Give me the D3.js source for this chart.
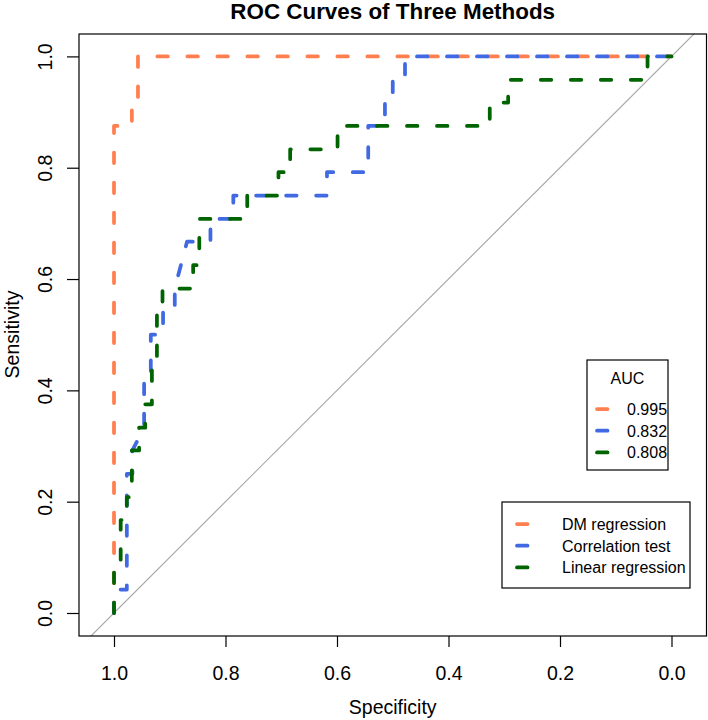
<!DOCTYPE html>
<html>
<head>
<meta charset="utf-8">
<script src="https://cdn.jsdelivr.net/npm/d3@7/dist/d3.min.js"></script>
<style>
  html, body { margin: 0; padding: 0; background: #fff; }
  svg { display: block; }
  text { font-family: "Liberation Sans", Arial, Helvetica, sans-serif; fill: #000; }
</style>
</head>
<body>
<svg id="chart" width="708" height="720"></svg>
<script>
// ---------------- data ----------------
const title = "ROC Curves of Three Methods";
const methods = ["DM regression", "Correlation test", "Linear regression"];
const aucValues = ["0.995", "0.832", "0.808"];
const colors = ["#FF7F50", "#4169E1", "#006400"];
const xTicks = [1.0, 0.8, 0.6, 0.4, 0.2, 0.0];
const yTicks = [0.0, 0.2, 0.4, 0.6, 0.8, 1.0];

// DM regression
const dmSpec = [1, 1, 0.968, 0.968, 0.957, 0.957, 0];
const dmSens = [0, 0.875, 0.875, 0.917, 0.917, 1, 1];

// Correlation test
const corSpec = [1, 1, 0.977, 0.977, 0.967, 0.967, 0.946, 0.946, 0.934, 0.934, 0.912, 0.912, 0.891, 0.891, 0.869, 0.827, 0.827, 0.786, 0.786, 0.618, 0.618, 0.544, 0.544, 0.514, 0.514, 0.500, 0.500, 0.478, 0.478, 0];
const corSens = [0, 0.042, 0.042, 0.250, 0.250, 0.292, 0.333, 0.417, 0.417, 0.500, 0.500, 0.542, 0.542, 0.583, 0.667, 0.667, 0.708, 0.708, 0.750, 0.750, 0.792, 0.792, 0.875, 0.875, 0.917, 0.917, 0.958, 0.958, 1, 1];

// Linear regression
const linSpec = [1, 1, 0.988, 0.988, 0.977, 0.977, 0.968, 0.968, 0.955, 0.955, 0.944, 0.944, 0.932, 0.932, 0.923, 0.923, 0.913, 0.913, 0.858, 0.858, 0.847, 0.847, 0.761, 0.761, 0.705, 0.705, 0.684, 0.684, 0.599, 0.599, 0.326, 0.326, 0.293, 0.293, 0.043, 0.043, 0];
const linSens = [0, 0.083, 0.083, 0.167, 0.167, 0.208, 0.208, 0.292, 0.292, 0.333, 0.333, 0.375, 0.375, 0.458, 0.458, 0.542, 0.542, 0.583, 0.583, 0.625, 0.625, 0.708, 0.708, 0.750, 0.750, 0.792, 0.792, 0.833, 0.833, 0.875, 0.875, 0.917, 0.917, 0.958, 0.958, 1, 1];

const seriesSpec = [dmSpec, corSpec, linSpec];
const seriesSens = [dmSens, corSens, linSens];

// ---------------- layout ----------------
const box = { left: 79, right: 706.5, top: 34, bottom: 636 };
const svg = d3.select("#chart");

const x = d3.scaleLinear().domain([1, 0]).range([114, 671.5]);
const y = d3.scaleLinear().domain([0, 1]).range([613, 56.4]);

svg.append("defs").append("clipPath").attr("id", "plotclip")
  .append("rect")
  .attr("x", box.left).attr("y", box.top)
  .attr("width", box.right - box.left).attr("height", box.bottom - box.top);

const plot = svg.append("g").attr("clip-path", "url(#plotclip)");

// diagonal reference line sens = 1 - spec
const diag = [x.domain()[0] + 0.1, x.domain()[1] - 0.1];
plot.append("line")
  .attr("x1", x(diag[0])).attr("y1", y(1 - diag[0]))
  .attr("x2", x(diag[1])).attr("y2", y(1 - diag[1]))
  .attr("stroke", "#a9a9a9").attr("stroke-width", 1.2);

// ROC curves
const line = d3.line().x(d => x(d[0])).y(d => y(d[1]));
seriesSpec.forEach((spec, i) => {
  const pts = spec.map((s, j) => [s, seriesSens[i][j]]);
  plot.append("path")
    .attr("d", line(pts))
    .attr("fill", "none")
    .attr("stroke", colors[i])
    .attr("stroke-width", 3.75)
    .attr("stroke-linecap", "round")
    .attr("stroke-linejoin", "round")
    .attr("stroke-dasharray", "10.5,19.5");
});

// box
svg.append("rect")
  .attr("x", box.left).attr("y", box.top)
  .attr("width", box.right - box.left).attr("height", box.bottom - box.top)
  .attr("fill", "none").attr("stroke", "#000").attr("stroke-width", 1.2);

// x axis
const xAxis = d3.axisBottom(x).tickValues(xTicks).tickSize(11).tickPadding(25)
  .tickFormat(d3.format(".1f"));
const gx = svg.append("g").attr("transform", `translate(0,${box.bottom})`).call(xAxis);
gx.select(".domain").remove();
gx.selectAll(".tick line").attr("stroke", "#000").attr("stroke-width", 1.2);
gx.selectAll(".tick text").attr("font-size", 19.5).attr("dy", 0).attr("y", 44)
  .style("font-family", '"Liberation Sans", Arial, sans-serif');

// y axis
const yAxis = d3.axisLeft(y).tickValues(yTicks).tickSize(12).tickFormat(d3.format(".1f"));
const gy = svg.append("g").attr("transform", `translate(${box.left},0)`).call(yAxis);
gy.select(".domain").remove();
gy.selectAll(".tick line").attr("stroke", "#000").attr("stroke-width", 1.2);
gy.selectAll(".tick text")
  .attr("font-size", 19.5)
  .attr("x", null).attr("dy", null)
  .attr("text-anchor", "middle")
  .attr("transform", "translate(-27,0) rotate(-90)")
  .attr("y", 0)
  .style("font-family", '"Liberation Sans", Arial, sans-serif');

// axis titles
svg.append("text").attr("x", 392.7).attr("y", 714).attr("text-anchor", "middle")
  .attr("font-size", 19.5).text("Specificity");
svg.append("text").attr("transform", "translate(19,334.5) rotate(-90)")
  .attr("text-anchor", "middle").attr("font-size", 19.5).text("Sensitivity");

// title
svg.append("text").attr("x", 392.7).attr("y", 19).attr("text-anchor", "middle")
  .attr("font-size", 22.4).attr("font-weight", "bold").text(title);

// AUC legend
const leg1 = svg.append("g");
leg1.append("rect").attr("x", 587).attr("y", 360).attr("width", 81).attr("height", 110)
  .attr("fill", "#fff").attr("stroke", "#000").attr("stroke-width", 1.2);
leg1.append("text").attr("x", 627.5).attr("y", 384).attr("text-anchor", "middle")
  .attr("font-size", 16).text("AUC");
aucValues.forEach((v, i) => {
  const cy = 409 + i * 21.7;
  leg1.append("line").attr("x1", 597).attr("x2", 627).attr("y1", cy).attr("y2", cy)
    .attr("stroke", colors[i]).attr("stroke-width", 3.75)
    .attr("stroke-linecap", "round").attr("stroke-dasharray", "10.5,19.5");
  leg1.append("text").attr("x", 627).attr("y", cy + 6).attr("font-size", 16).text(v);
});

// method legend
const leg2 = svg.append("g");
leg2.append("rect").attr("x", 502).attr("y", 502).attr("width", 188).attr("height", 86)
  .attr("fill", "#fff").attr("stroke", "#000").attr("stroke-width", 1.2);
methods.forEach((m, i) => {
  const cy = 524 + i * 21.7;
  leg2.append("line").attr("x1", 517).attr("x2", 547).attr("y1", cy).attr("y2", cy)
    .attr("stroke", colors[i]).attr("stroke-width", 3.75)
    .attr("stroke-linecap", "round").attr("stroke-dasharray", "10.5,19.5");
  leg2.append("text").attr("x", 562).attr("y", cy + 6).attr("font-size", 16).text(m);
});
</script>
</body>
</html>
